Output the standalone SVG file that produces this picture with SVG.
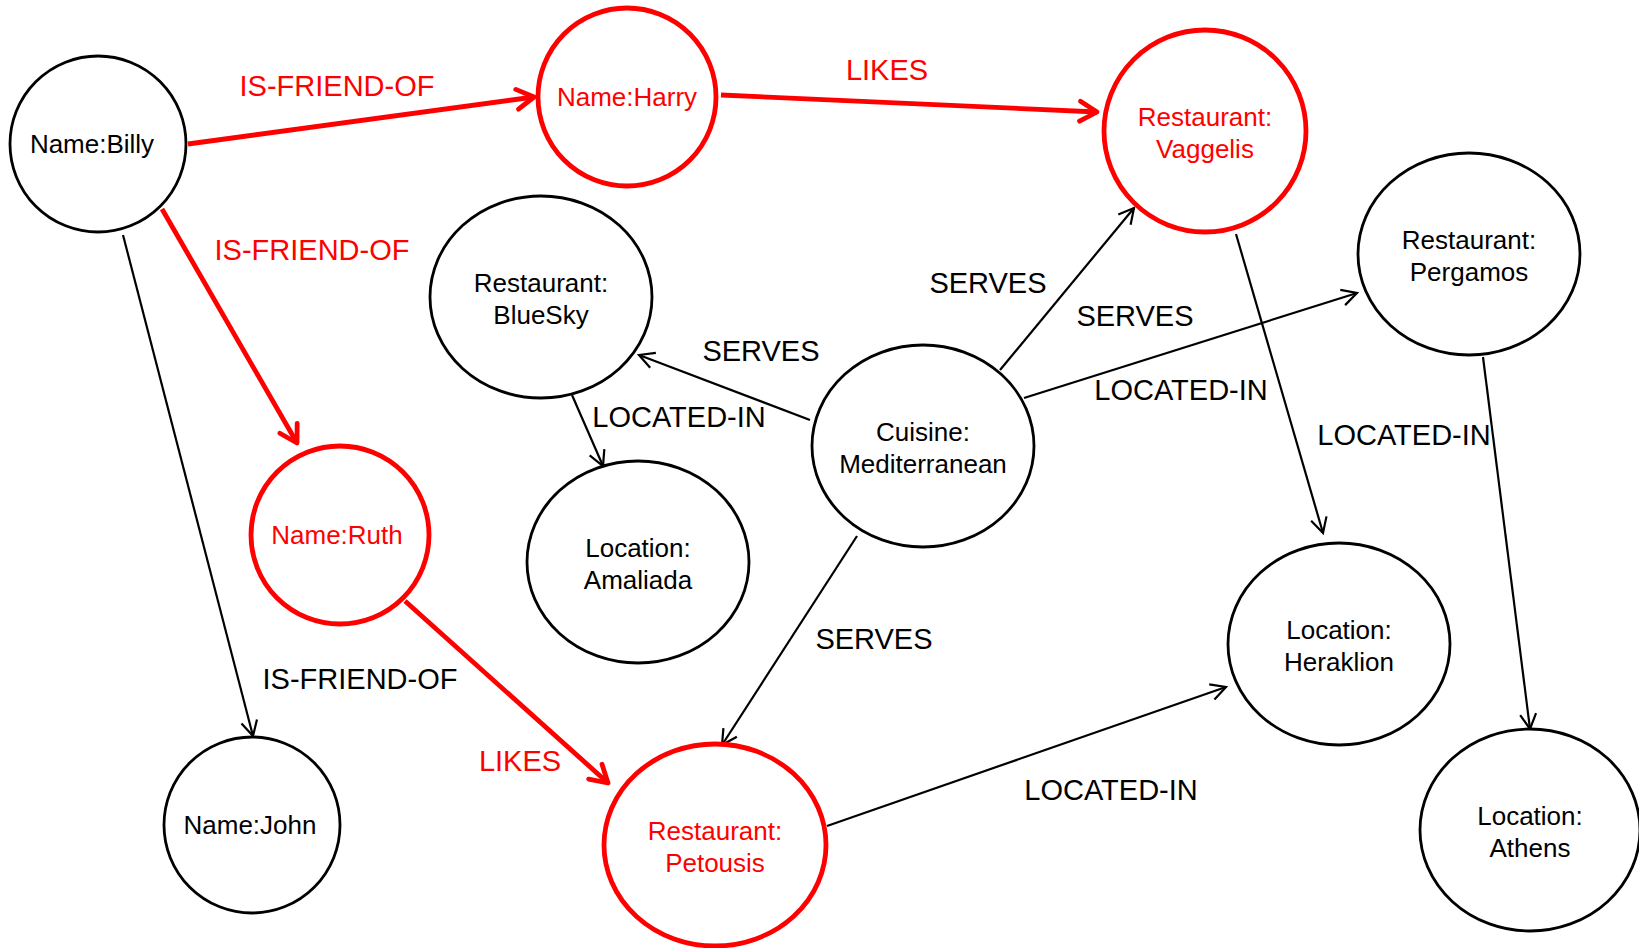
<svg xmlns="http://www.w3.org/2000/svg" width="1639" height="948" viewBox="0 0 1639 948">
<style>
.nb{fill:#fff;stroke:#000;stroke-width:2.8}
.nr{fill:#fff;stroke:#f00;stroke-width:4.8}
.t{font-family:"Liberation Sans",Arial,sans-serif;font-size:26px;text-anchor:middle;fill:#000}
.tr{fill:#f00}
.el{font-family:"Liberation Sans",Arial,sans-serif;font-size:29px;text-anchor:middle;fill:#000}
.elr{fill:#f00}
.eb{fill:none;stroke:#000;stroke-width:2.2;marker-end:url(#arrB)}
.er{fill:none;stroke:#f00;stroke-width:4.8;marker-end:url(#arrR)}
</style>
<defs>
<marker id="arrB" markerUnits="userSpaceOnUse" orient="auto" refX="0" refY="0" markerWidth="40" markerHeight="40" viewBox="-20 -20 40 40" overflow="visible">
<path d="M-15,-8 L0,0 L-15,8" fill="none" stroke="#000" stroke-width="2.2"/>
</marker>
<marker id="arrR" markerUnits="userSpaceOnUse" orient="auto" refX="0" refY="0" markerWidth="40" markerHeight="40" viewBox="-20 -20 40 40" overflow="visible">
<path d="M-17,-10 L0,0 L-17,10" fill="none" stroke="#f00" stroke-width="4.8" stroke-linecap="round" stroke-linejoin="round"/>
</marker>
</defs>
<rect width="1639" height="948" fill="#fff"/>
<g id="connectors">
<line class="er" x1="188" y1="144" x2="534" y2="97"/>
<text class="el elr" x="337" y="96">IS-FRIEND-OF</text>
<line class="er" x1="162" y1="209" x2="297" y2="443"/>
<text class="el elr" x="312" y="260">IS-FRIEND-OF</text>
<line class="eb" x1="123" y1="235" x2="253" y2="736"/>
<text class="el" x="360" y="689">IS-FRIEND-OF</text>
<line class="er" x1="721" y1="95" x2="1097" y2="112"/>
<text class="el elr" x="887" y="80">LIKES</text>
<line class="er" x1="405" y1="601" x2="608" y2="783"/>
<text class="el elr" x="520" y="771">LIKES</text>
<line class="eb" x1="810" y1="420" x2="639" y2="355"/>
<text class="el" x="761" y="361">SERVES</text>
<line class="eb" x1="572" y1="395" x2="603" y2="466"/>
<text class="el" x="679" y="427">LOCATED-IN</text>
<line class="eb" x1="1000" y1="370" x2="1134" y2="208"/>
<text class="el" x="988" y="293">SERVES</text>
<line class="eb" x1="1024" y1="398" x2="1357" y2="293"/>
<text class="el" x="1135" y="326">SERVES</text>
<line class="eb" x1="857" y1="536" x2="722" y2="745"/>
<text class="el" x="874" y="649">SERVES</text>
<line class="eb" x1="1236" y1="234" x2="1323" y2="533"/>
<text class="el" x="1181" y="400">LOCATED-IN</text>
<line class="eb" x1="1483" y1="357" x2="1530" y2="729"/>
<text class="el" x="1404" y="445">LOCATED-IN</text>
<line class="eb" x1="827" y1="826" x2="1226" y2="687"/>
<text class="el" x="1111" y="800">LOCATED-IN</text>
</g>
<g id="billy"><ellipse class="nb" cx="98" cy="144" rx="88" ry="88"/><text class="t" x="92" y="153">Name:Billy</text></g>
<g id="harry"><ellipse class="nr" cx="627" cy="97" rx="89" ry="89"/><text class="t tr" x="627" y="106">Name:Harry</text></g>
<g id="vaggelis"><ellipse class="nr" cx="1205" cy="131" rx="101" ry="101"/><text class="t tr" x="1205" y="126">Restaurant:</text><text class="t tr" x="1205" y="158">Vaggelis</text></g>
<g id="pergamos"><ellipse class="nb" cx="1469" cy="254" rx="111" ry="101"/><text class="t" x="1469" y="249">Restaurant:</text><text class="t" x="1469" y="281">Pergamos</text></g>
<g id="bluesky"><ellipse class="nb" cx="541" cy="297" rx="111" ry="101"/><text class="t" x="541" y="292">Restaurant:</text><text class="t" x="541" y="324">BlueSky</text></g>
<g id="cuisine"><ellipse class="nb" cx="923" cy="446" rx="111" ry="101"/><text class="t" x="923" y="441">Cuisine:</text><text class="t" x="923" y="473">Mediterranean</text></g>
<g id="ruth"><ellipse class="nr" cx="340" cy="535" rx="89" ry="89"/><text class="t tr" x="337" y="544">Name:Ruth</text></g>
<g id="amaliada"><ellipse class="nb" cx="638" cy="562" rx="111" ry="101"/><text class="t" x="638" y="557">Location:</text><text class="t" x="638" y="589">Amaliada</text></g>
<g id="heraklion"><ellipse class="nb" cx="1339" cy="644" rx="111" ry="101"/><text class="t" x="1339" y="639">Location:</text><text class="t" x="1339" y="671">Heraklion</text></g>
<g id="john"><ellipse class="nb" cx="252" cy="825" rx="88" ry="88"/><text class="t" x="250" y="834">Name:John</text></g>
<g id="petousis"><ellipse class="nr" cx="715" cy="845" rx="111" ry="101"/><text class="t tr" x="715" y="840">Restaurant:</text><text class="t tr" x="715" y="872">Petousis</text></g>
<g id="athens"><ellipse class="nb" cx="1530" cy="830" rx="110" ry="101"/><text class="t" x="1530" y="825">Location:</text><text class="t" x="1530" y="857">Athens</text></g>
</svg>
